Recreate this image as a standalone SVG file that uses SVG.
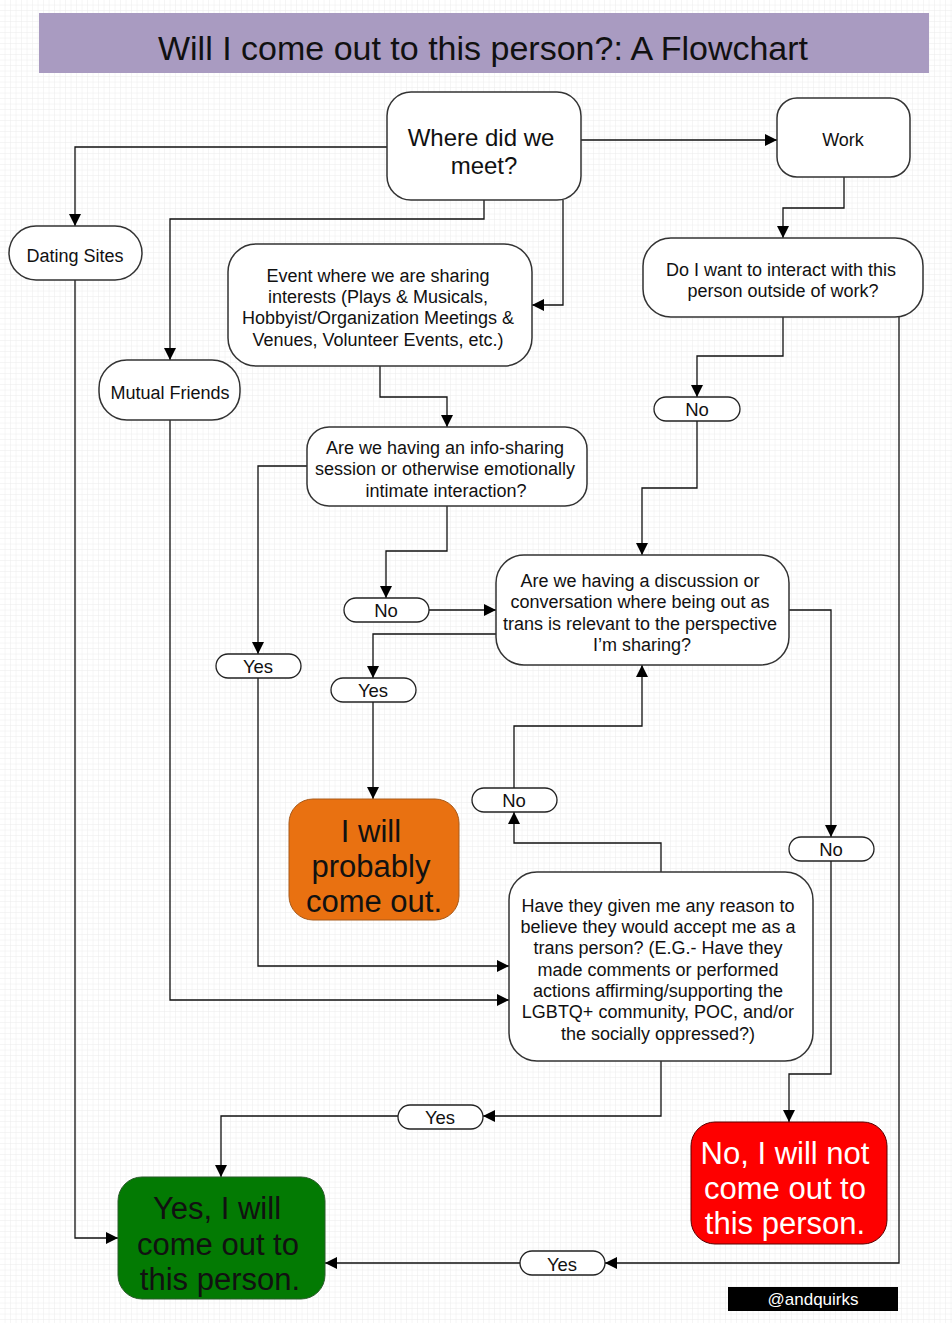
<svg xmlns="http://www.w3.org/2000/svg" width="952" height="1323" viewBox="0 0 952 1323">
<defs>
<pattern id="grid" width="5.5" height="5.5" patternUnits="userSpaceOnUse">
<path d="M5.5 0V5.5H0" fill="none" stroke="#ececec" stroke-width="1"/>
</pattern>
<marker id="arr" viewBox="0 0 12 12" refX="12" refY="6" markerWidth="12" markerHeight="12" markerUnits="userSpaceOnUse" orient="auto">
<path d="M0 0L12 6L0 12Z" fill="#000"/>
</marker>
<style>
.box{fill:#fff;stroke:#333;stroke-width:1.5}
.pill{fill:#fff;stroke:#222;stroke-width:1.3}
.t{font-family:"Liberation Sans",Arial,sans-serif;text-anchor:middle;fill:#111}
.s16{font-size:18px}
.s17{font-size:18px}
.sp{font-size:18.5px}
.s22{font-size:24px}
.s28{font-size:31px}
.c{fill:none;stroke:#111;stroke-width:1.3;marker-end:url(#arr)}
</style>
</defs>
<rect width="952" height="1323" fill="#fff"/>
<rect width="952" height="1323" fill="url(#grid)"/>
<g id="title">
<rect x="39" y="13" width="890" height="60" fill="#a99bc1"/>
<text class="t" x="483" y="60" font-size="34">Will I come out to this person?: A Flowchart</text>
</g>
<g id="connectors">
<path class="c" d="M387 147H75V226"/>
<path class="c" d="M581 140H777"/>
<path class="c" d="M484 200V219H170V360"/>
<path class="c" d="M563 200V305H532"/>
<path class="c" d="M844 177V208H783V238"/>
<path class="c" d="M783 317V356H697V397"/>
<path class="c" d="M899 317V1263H605"/>
<path class="c" d="M520 1263H325"/>
<path class="c" d="M697 421V488H642V555"/>
<path class="c" d="M380 366V397H447V427"/>
<path class="c" d="M447 506V551H386V598"/>
<path class="c" d="M429 610H496"/>
<path class="c" d="M307 466H258V654"/>
<path class="c" d="M496 634H373V678"/>
<path class="c" d="M373 702V799"/>
<path class="c" d="M789 610H831V837"/>
<path class="c" d="M831 861V1074H789V1122"/>
<path class="c" d="M258 678V966H509"/>
<path class="c" d="M170 420V1000H509"/>
<path class="c" d="M661 872V843H514V812"/>
<path class="c" d="M514 788V726H642V665"/>
<path class="c" d="M661 1061V1116H483"/>
<path class="c" d="M398 1116H221V1177"/>
<path class="c" d="M75 280V1238H118"/>
</g>
<g id="where">
<rect class="box" x="387" y="92" width="194" height="108" rx="24"/>
<text class="t s22" x="481" y="146">Where did we</text>
<text class="t s22" x="484" y="174">meet?</text>
</g>
<g id="work">
<rect class="box" x="777" y="98" width="133" height="79" rx="20"/>
<text class="t s17" x="843" y="146">Work</text>
</g>
<g id="dating">
<rect class="box" x="9" y="226" width="133" height="54" rx="27"/>
<text class="t s17" x="75" y="262">Dating Sites</text>
</g>
<g id="mutual">
<rect class="box" x="99" y="360" width="141" height="60" rx="28"/>
<text class="t s17" x="170" y="399">Mutual Friends</text>
</g>
<g id="event">
<rect class="box" x="228" y="244" width="304" height="122" rx="28"/>
<text class="t s16" x="378" y="282">Event where we are sharing</text>
<text class="t s16" x="378" y="303">interests (Plays &amp; Musicals,</text>
<text class="t s16" x="378" y="324">Hobbyist/Organization Meetings &amp;</text>
<text class="t s16" x="378" y="346">Venues, Volunteer Events, etc.)</text>
</g>
<g id="interact">
<rect class="box" x="643" y="238" width="280" height="79" rx="28"/>
<text class="t s16" x="781" y="276">Do I want to interact with this</text>
<text class="t s16" x="783" y="297">person outside of work?</text>
</g>
<g id="infosharing">
<rect class="box" x="307" y="427" width="280" height="79" rx="22"/>
<text class="t s16" x="445" y="454">Are we having an info-sharing</text>
<text class="t s16" x="445" y="475">session or otherwise emotionally</text>
<text class="t s16" x="446" y="497">intimate interaction?</text>
</g>
<g id="discussion">
<rect class="box" x="496" y="555" width="293" height="110" rx="28"/>
<text class="t s16" x="640" y="587">Are we having a discussion or</text>
<text class="t s16" x="640" y="608">conversation where being out as</text>
<text class="t s16" x="640" y="630">trans is relevant to the perspective</text>
<text class="t s16" x="642" y="651">I’m sharing?</text>
</g>
<g id="probably">
<rect x="289" y="799" width="170" height="121" rx="24" fill="#e97111" stroke="#a85a1a" stroke-width="1"/>
<text class="t s28" x="371" y="842">I will</text>
<text class="t s28" x="371" y="877">probably</text>
<text class="t s28" x="374" y="912">come out.</text>
</g>
<g id="accept">
<rect class="box" x="509" y="872" width="304" height="189" rx="28"/>
<text class="t s16" x="658" y="912">Have they given me any reason to</text>
<text class="t s16" x="658" y="933">believe they would accept me as a</text>
<text class="t s16" x="658" y="954">trans person? (E.G.- Have they</text>
<text class="t s16" x="658" y="976">made comments or performed</text>
<text class="t s16" x="658" y="997">actions affirming/supporting the</text>
<text class="t s16" x="658" y="1018">LGBTQ+ community, POC, and/or</text>
<text class="t s16" x="658" y="1040">the socially oppressed?)</text>
</g>
<g id="yes-final">
<rect x="118" y="1177" width="207" height="122" rx="24" fill="#037a03" stroke="#2a5a2a" stroke-width="1"/>
<text class="t s28" x="217" y="1219">Yes, I will</text>
<text class="t s28" x="218" y="1255">come out to</text>
<text class="t s28" x="220" y="1290">this person.</text>
</g>
<g id="no-final">
<rect x="691" y="1122" width="196" height="122" rx="24" fill="#fe0000" stroke="#5a0000" stroke-width="1"/>
<text class="t s28" x="785" y="1164" style="fill:#fff">No, I will not</text>
<text class="t s28" x="785" y="1199" style="fill:#fff">come out to</text>
<text class="t s28" x="785" y="1234" style="fill:#fff">this person.</text>
</g>
<g id="lbl-no1">
<rect class="pill" x="654" y="397" width="86" height="24" rx="12"/>
<text class="t sp" x="697" y="416">No</text>
</g>
<g id="lbl-no2">
<rect class="pill" x="344" y="598" width="85" height="24" rx="12"/>
<text class="t sp" x="386" y="617">No</text>
</g>
<g id="lbl-yes1">
<rect class="pill" x="216" y="654" width="85" height="24" rx="12"/>
<text class="t sp" x="258" y="673">Yes</text>
</g>
<g id="lbl-yes2">
<rect class="pill" x="331" y="678" width="85" height="24" rx="12"/>
<text class="t sp" x="373" y="697">Yes</text>
</g>
<g id="lbl-no3">
<rect class="pill" x="472" y="788" width="85" height="24" rx="12"/>
<text class="t sp" x="514" y="807">No</text>
</g>
<g id="lbl-no4">
<rect class="pill" x="789" y="837" width="85" height="24" rx="12"/>
<text class="t sp" x="831" y="856">No</text>
</g>
<g id="lbl-yes3">
<rect class="pill" x="398" y="1105" width="85" height="24" rx="12"/>
<text class="t sp" x="440" y="1124">Yes</text>
</g>
<g id="lbl-yes4">
<rect class="pill" x="520" y="1251" width="85" height="24" rx="12"/>
<text class="t sp" x="562" y="1271">Yes</text>
</g>
<g id="credit">
<rect x="728" y="1287" width="170" height="24" fill="#000"/>
<text class="t" x="813" y="1305" font-size="17" style="fill:#fff">@andquirks</text>
</g>
</svg>
